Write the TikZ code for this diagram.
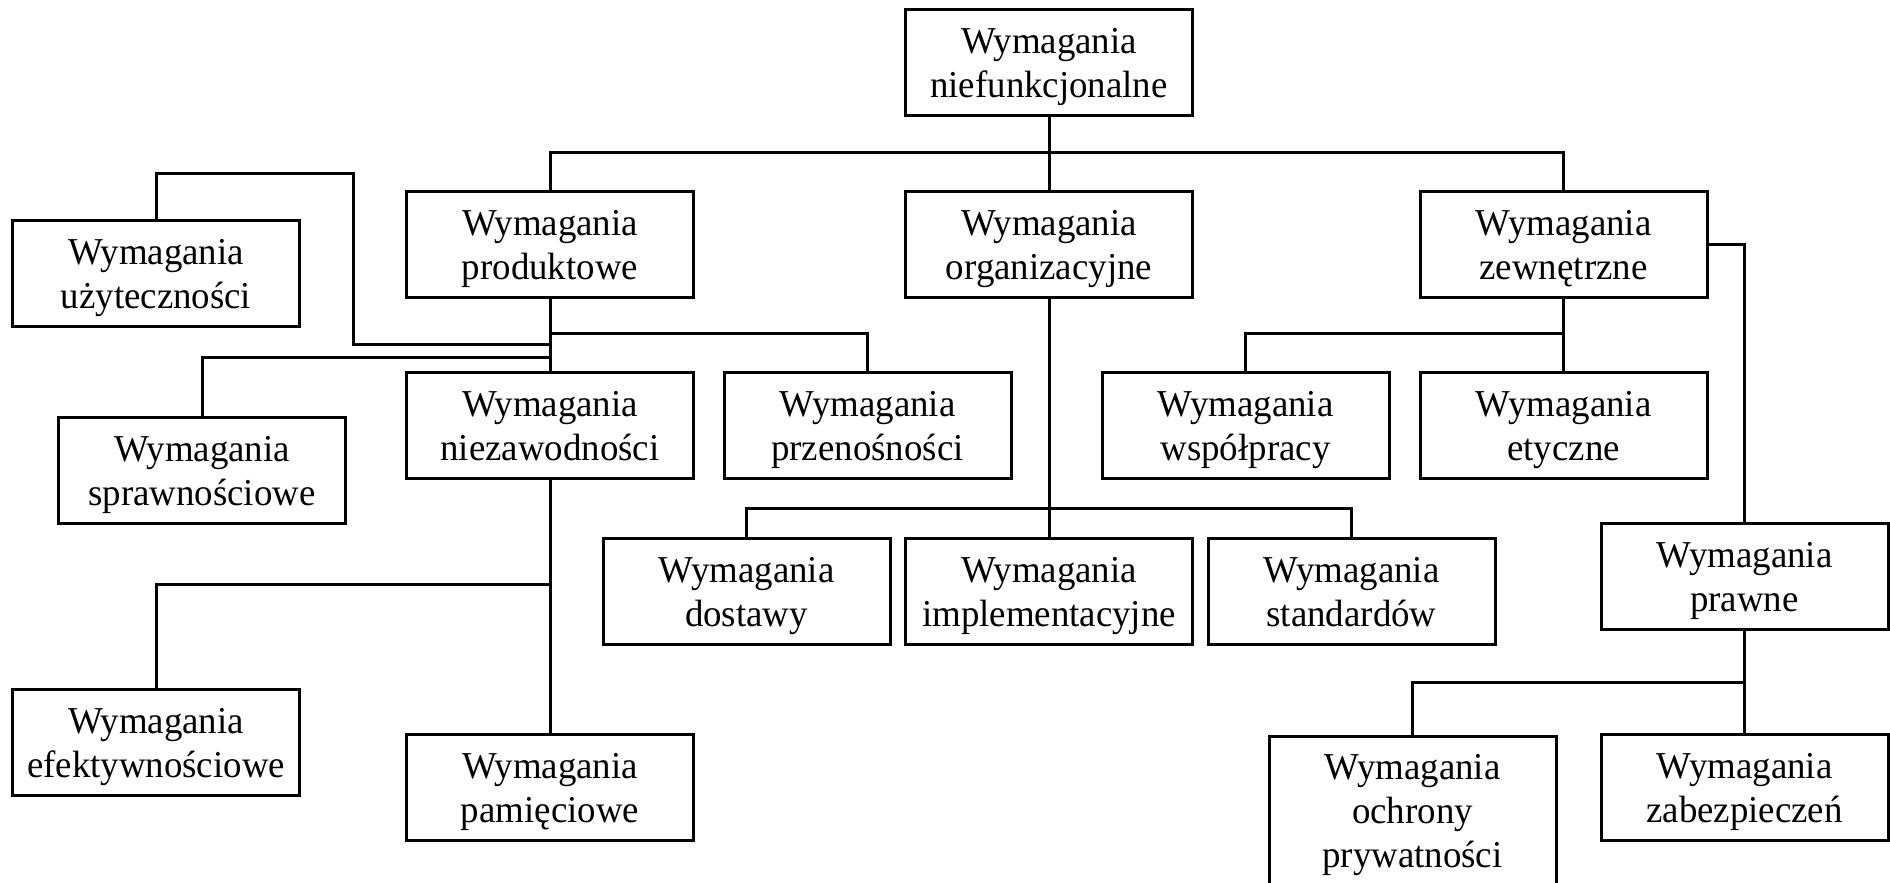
\documentclass[tikz,border=0pt]{standalone}
\usepackage{fontspec}
\setmainfont{Liberation Serif}
% slightly condensed serif face for the box labels
\newfontfamily\boxfont{Liberation Serif}[FakeStretch=0.97]
% struts fixing the height of the first line and the depth of the last one
\newcommand{\topst}{\rule{0pt}{18pt}}
\newcommand{\botst}{\rule[-5pt]{0pt}{5pt}}
\begin{document}
\begin{tikzpicture}[x=0.5pt,y=-0.5pt,
  line width=1.5pt,
  req/.style={draw, rectangle, line width=1.5pt, inner sep=0pt,
    minimum width=143.5pt, minimum height=53pt, align=center,
    font=\boxfont\fontsize{19}{22}\selectfont},
  link/.style={line width=1.5pt}]
\useasboundingbox (0,0) rectangle (1890,883);

% boxes (centres in pixel-like units)
\node[req] (root)   at (1049,62.5)   {\topst Wymagania\\niefunkcjonalne\botst};
\node[req] (prod)   at (550,244)     {\topst Wymagania\\produktowe\botst};
\node[req] (org)    at (1049,244)    {\topst Wymagania\\organizacyjne\botst};
\node[req] (zew)    at (1563.5,244)  {\topst Wymagania\\zewnętrzne\botst};
\node[req] (uzyt)   at (156,273.5)   {\topst Wymagania\\użyteczności\botst};
\node[req] (spraw)  at (202,470)     {\topst Wymagania\\sprawnościowe\botst};
\node[req] (niez)   at (550,425)     {\topst Wymagania\\niezawodności\botst};
\node[req] (przen)  at (867.5,425)   {\topst Wymagania\\przenośności\botst};
\node[req] (wspol)  at (1245.5,425)  {\topst Wymagania\\współpracy\botst};
\node[req] (etycz)  at (1563.5,425)  {\topst Wymagania\\etyczne\botst};
\node[req] (dost)   at (746.5,591)   {\topst Wymagania\\dostawy\botst};
\node[req] (impl)   at (1049,591)    {\topst Wymagania\\implementacyjne\botst};
\node[req] (stand)  at (1351.5,591)  {\topst Wymagania\\standardów\botst};
\node[req] (prawne) at (1744.5,576)  {\topst Wymagania\\prawne\botst};
\node[req] (efekt)  at (156,742.5)   {\topst Wymagania\\efektywnościowe\botst};
\node[req] (pamiec) at (550,787.5)   {\topst Wymagania\\pamięciowe\botst};
\node[req, minimum height=80pt, anchor=north] (ochr) at (1412.5,735)
  {\topst Wymagania\\ochrony\\prywatności\rule[-11pt]{0pt}{11pt}};
\node[req] (zabez)  at (1744.5,787.5) {\topst Wymagania\\zabezpieczeń\botst};

% junction points on the horizontal bus lines
\coordinate (j0) at (1049,153);
\coordinate (j1) at (550,333);
\coordinate (u1) at (353,173);
\coordinate (u2) at (550,344);
\coordinate (j2) at (550,357);
\coordinate (j3) at (550,584);
\coordinate (j4) at (1049,508);
\coordinate (j5) at (1563.5,333);
\coordinate (j6) at (1744.5,682);

% top level
\draw[link] (root) -- (org);
\draw[link] (prod.north) |- (j0) -| (zew.north);

% product requirements
\draw[link] (prod.south) -- (niez.north);
\draw[link] (przen.north) |- (j1);
\draw[link] (uzyt.north) |- (u1) |- (u2);
\draw[link] (spraw.north) |- (j2);
\draw[link] (niez.south) -- (pamiec.north);
\draw[link] (efekt.north) |- (j3);

% organisational requirements
\draw[link] (org.south) -- (impl.north);
\draw[link] (dost.north) |- (j4) -| (stand.north);

% external requirements
\draw[link] (zew.south) -- (etycz.north);
\draw[link] (wspol.north) |- (j5);
\draw[link] (zew.east) -| (prawne.north);
\draw[link] (prawne.south) -- (zabez.north);
\draw[link] (ochr.north) |- (j6);
\end{tikzpicture}
\end{document}
